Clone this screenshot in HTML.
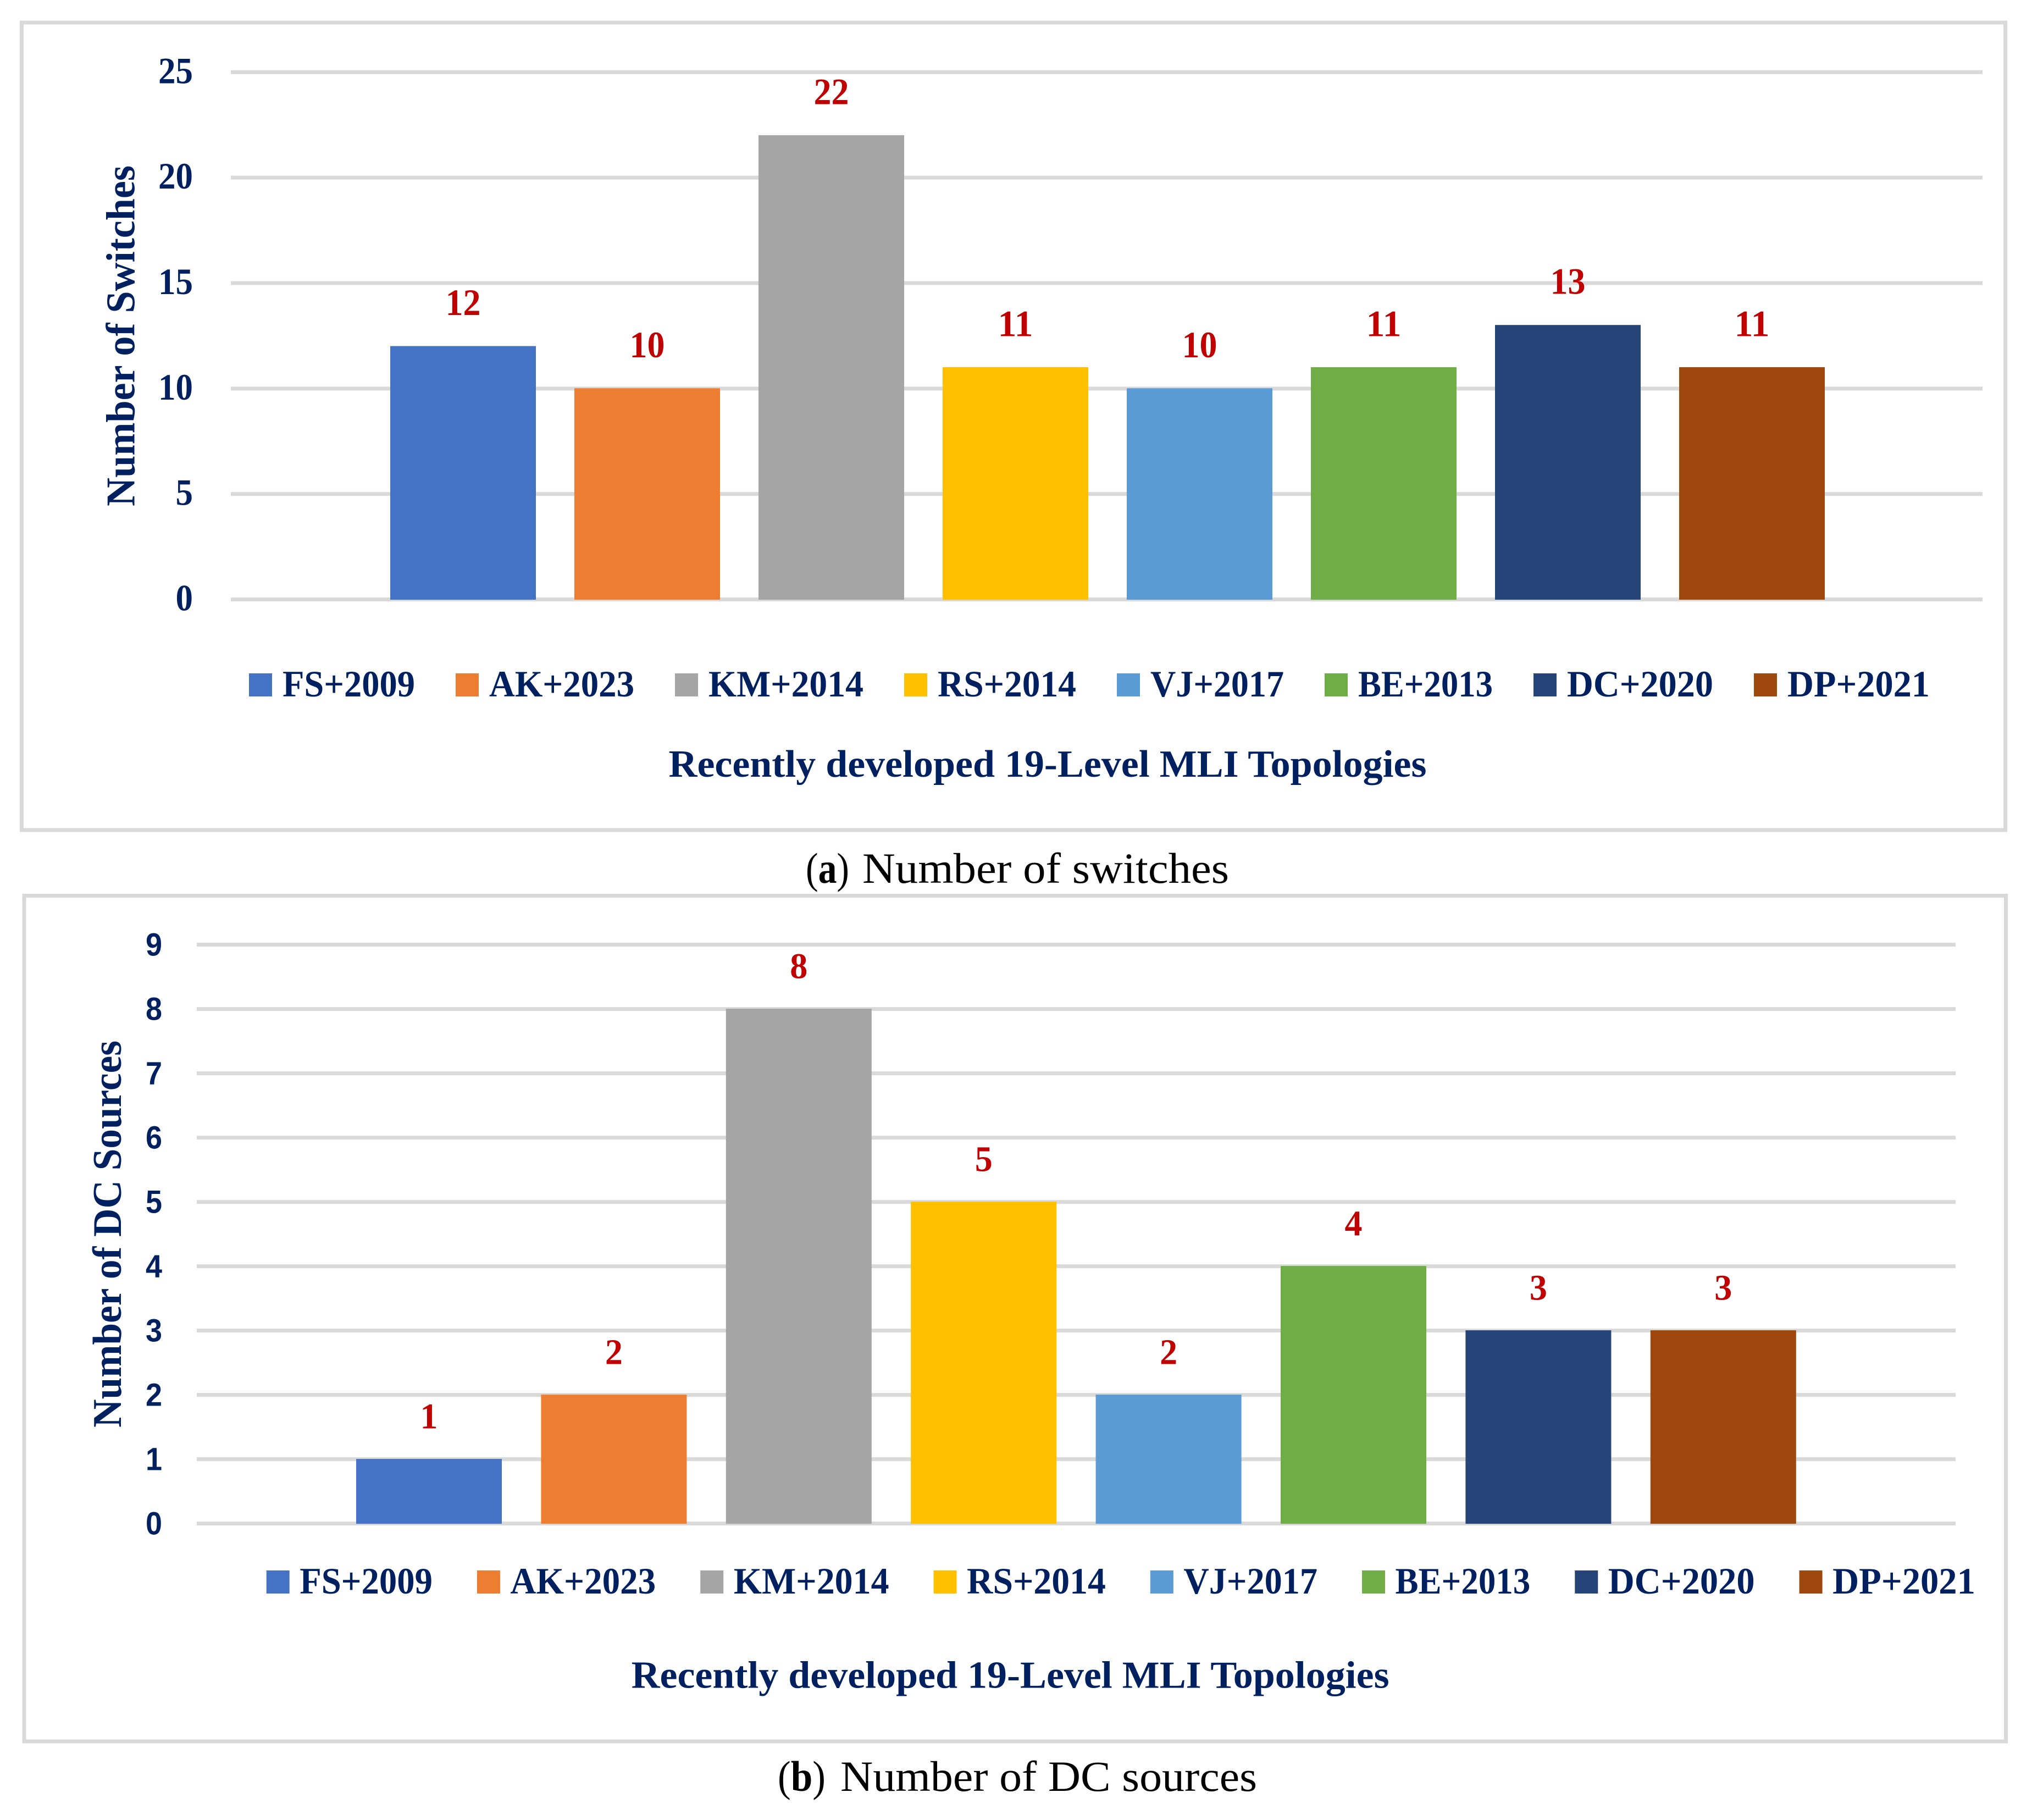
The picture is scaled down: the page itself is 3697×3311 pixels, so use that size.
<!DOCTYPE html>
<html lang="en">
<head>
<meta charset="utf-8">
<title>Recently developed 19-Level MLI Topologies</title>
<style>
html,body{margin:0;padding:0;background:#fff;}
svg{display:block;}
text{font-family:"Liberation Serif",serif;}
</style>
</head>
<body>
<svg id="figure" xmlns="http://www.w3.org/2000/svg" width="3697" height="3311" viewBox="0 0 3697 3311">
  <rect x="0" y="0" width="3697" height="3311" fill="#ffffff"/>
  <g id="panel-a">
    <rect x="39.5" y="41" width="3609" height="1469" fill="#ffffff" stroke="#d9d9d9" stroke-width="7"/>
  </g>
  <g>
    <text x="1466" y="1606" font-size="78" fill="#000000" textLength="79" lengthAdjust="spacingAndGlyphs">(<tspan font-weight="bold">a</tspan>)</text>
    <text x="1569" y="1606" font-size="78" fill="#000000" textLength="667" lengthAdjust="spacingAndGlyphs">Number of switches</text>
  </g>
  <g id="panel-b">
    <rect x="44" y="1629.5" width="3605.5" height="1538.5" fill="#ffffff" stroke="#d9d9d9" stroke-width="7"/>
  </g>
  <g>
    <text x="1415" y="3258" font-size="78" fill="#000000" textLength="87" lengthAdjust="spacingAndGlyphs">(<tspan font-weight="bold">b</tspan>)</text>
    <text x="1529" y="3258" font-size="78" fill="#000000" textLength="758" lengthAdjust="spacingAndGlyphs">Number of DC sources</text>
  </g>
</svg>
<script>
const categories = ['FS+2009', 'AK+2023', 'KM+2014', 'RS+2014', 'VJ+2017', 'BE+2013', 'DC+2020', 'DP+2021'];
const switchValues = [12, 10, 22, 11, 10, 11, 13, 11];
const sourceValues = [1, 2, 8, 5, 2, 4, 3, 3];
const switchTicks = [0, 5, 10, 15, 20, 25];
const sourceTicks = [0, 1, 2, 3, 4, 5, 6, 7, 8, 9];
const seriesColors = ['#4472C4', '#ED7D31', '#A5A5A5', '#FFC000', '#5B9BD5', '#70AD47', '#264478', '#9E480E'];
const legendTextWidths = [241, 264, 282, 252, 243, 245, 266, 259];

const SVG_NS = 'http://www.w3.org/2000/svg';
const NAVY = '#002060';
const RED = '#C00000';

function make(tag, attrs, parent, content) {
  const node = document.createElementNS(SVG_NS, tag);
  for (const key of Object.keys(attrs)) node.setAttribute(key, attrs[key]);
  if (content !== undefined) node.textContent = content;
  parent.appendChild(node);
  return node;
}

function drawChart(cfg) {
  const root = document.getElementById(cfg.groupId);
  const maxTick = cfg.ticks[cfg.ticks.length - 1];
  const yScale = v => cfg.baseY - (v / maxTick) * (cfg.baseY - cfg.topY);
  const xBar = i => cfg.barStart + i * cfg.barStep;

  cfg.ticks.forEach(t => {
    const grid = make('line', {x1: cfg.gridX1, x2: cfg.gridX2, y1: yScale(t), y2: yScale(t), stroke: '#d9d9d9', 'stroke-width': 7}, root);
    
    

    const label = String(t);
    const w = cfg.tickDigitWidth * label.length;
    const tick = make('text', {
      x: cfg.tickRight - w, y: yScale(t) + cfg.tickDy, 'font-size': cfg.tickSize, 'font-weight': 'bold', fill: NAVY,
      textLength: w, lengthAdjust: 'spacingAndGlyphs', style: 'font-family:' + cfg.tickFont
    }, root, label);
    
    
  });

  cfg.values.forEach((v, i) => {
    const barTop = yScale(v) - 0.5;
    const bar = make('rect', {x: xBar(i), y: barTop, width: cfg.barWidth, height: cfg.baseY + 0.5 - barTop, fill: seriesColors[i]}, root);
    
    

    const label = String(v);
    const w = cfg.valueDigitWidth * label.length;
    const value = make('text', {
      x: xBar(i) + cfg.barWidth / 2 - w / 2, y: yScale(v) - cfg.valueGap, 'font-size': cfg.valueSize, 'font-weight': 'bold', fill: RED,
      textLength: w, lengthAdjust: 'spacingAndGlyphs'
    }, root, label);
    
    
  });

  let cursor = cfg.legendStart;
  categories.forEach((name, i) => {
    const swatch = make('rect', {x: cursor, y: cfg.legendY, width: 42, height: 42, fill: seriesColors[i]}, root);
    
    

    const entry = make('text', {
      x: cursor + cfg.legendTextOffset, y: cfg.legendY + 42, 'font-size': 68, 'font-weight': 'bold', fill: NAVY,
      textLength: legendTextWidths[i] * cfg.legendTextScale, lengthAdjust: 'spacingAndGlyphs'
    }, root, name);
    
    

    cursor += cfg.legendTextOffset + legendTextWidths[i] * cfg.legendTextScale + cfg.legendGap;
  });

  const xTitle = make('text', {
    x: cfg.xTitleX, y: cfg.xTitleY, 'font-size': 70, 'font-weight': 'bold', fill: NAVY,
    textLength: cfg.xTitleLen, lengthAdjust: 'spacingAndGlyphs'
  }, root, cfg.xTitle);
  
  

  const yTitle = make('text', {
    x: cfg.yTitleX, y: cfg.yTitleY, 'font-size': 74, 'font-weight': 'bold', fill: NAVY,
    textLength: cfg.yTitleLen, lengthAdjust: 'spacingAndGlyphs',
    transform: 'rotate(-90 ' + cfg.yTitleX + ' ' + cfg.yTitleY + ')'
  }, root, cfg.yTitle);
  
  
}

drawChart({
  groupId: 'panel-a', prefix: 'switches', values: switchValues, ticks: switchTicks,
  baseY: 1090.5, topY: 131.3, gridX1: 420, gridX2: 3607,
  tickRight: 351, tickDigitWidth: 31.5, tickSize: 68, tickDy: 20, tickFont: '"Liberation Serif",serif',
  barStart: 710, barStep: 335, barWidth: 265,
  valueDigitWidth: 32, valueSize: 68, valueGap: 57,
  legendStart: 453, legendY: 1225, legendTextOffset: 61, legendGap: 74, legendTextScale: 1,
  xTitle: 'Recently developed 19-Level MLI Topologies', xTitleX: 1216.5, xTitleY: 1413, xTitleLen: 1379,
  yTitle: 'Number of Switches', yTitleX: 244.5, yTitleY: 921, yTitleLen: 620
});

drawChart({
  groupId: 'panel-b', prefix: 'dc-sources', values: sourceValues, ticks: sourceTicks,
  baseY: 2771.6, topY: 1718.6, gridX1: 358, gridX2: 3558,
  tickRight: 295, tickDigitWidth: 30, tickSize: 58, tickDy: 20, tickFont: '"Liberation Sans",sans-serif',
  barStart: 648, barStep: 336.4, barWidth: 265,
  valueDigitWidth: 32, valueSize: 66, valueGap: 56,
  legendStart: 484.7, legendY: 2857, legendTextOffset: 60.5, legendGap: 81, legendTextScale: 1.003,
  xTitle: 'Recently developed 19-Level MLI Topologies', xTitleX: 1148.6, xTitleY: 3070.6, xTitleLen: 1379,
  yTitle: 'Number of DC Sources', yTitleX: 220, yTitleY: 2597, yTitleLen: 704
});
</script>
</body>
</html>
